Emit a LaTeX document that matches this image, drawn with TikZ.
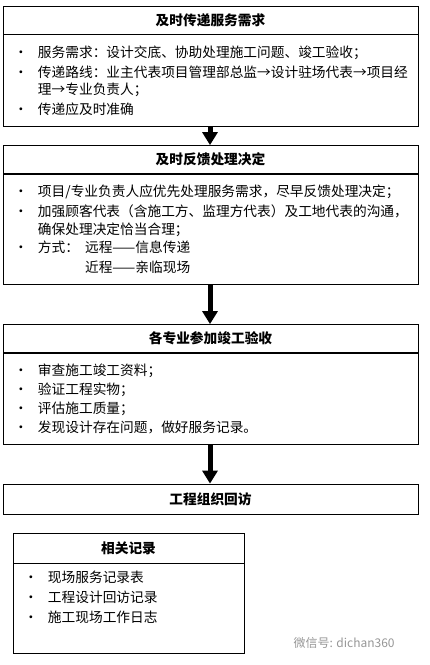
\documentclass[tikz,border=0pt]{standalone}
\usepackage{fontspec}
\usepackage{tikz}
\usepackage{xcolor}
\usetikzlibrary{arrows.meta,positioning}
\newfontfamily\cjk{Noto Sans CJK SC}
\definecolor{markGray}{RGB}{150,150,150}
\newcommand{\bul}{\makebox[24pt][l]{·}}
\newcommand{\wrp}{\hspace*{24pt}}

\begin{document}
\begin{tikzpicture}[
  x=1pt, y=1pt,
  every node/.style={font=\cjk},
  head/.style={
    draw, line width=0.8pt,
    minimum width=#1, minimum height=28pt,
    inner sep=0pt,
    font=\cjk\bfseries\fontsize{13.7}{16}\selectfont
  },
  head/.default=415pt,
  panel/.style={
    draw, line width=0.8pt,
    text width=#1, inner xsep=11pt, inner ysep=0pt,
    align=left,
    font=\cjk\fontsize{13.7}{20}\selectfont
  },
  panel/.default=393pt,
  flow/.style={
    line width=5pt,
    -{Triangle[width=15pt,length=13pt]}
  }
]
  \useasboundingbox (0,0) rectangle (430,-665);

  % stage 1
  \node[head] (t1) at (210.5,-20) {及时传递服务需求};
  \node[panel, minimum height=92pt, anchor=north] (b1) at (t1.south)
    {\bul 服务需求：设计交底、协助处理施工问题、竣工验收；\\
     \bul 传递路线：业主代表项目管理部总监→设计驻场代表→项目经\\[-3pt]
     \wrp 理→专业负责人；\\
     \bul 传递应及时准确};

  % stage 2
  \node[head] (t2) at (210.5,-159.5) {及时反馈处理决定};
  \node[panel, minimum height=110pt, anchor=north] (b2) at (t2.south)
    {\bul 项目/专业负责人应优先处理服务需求，尽早反馈处理决定；\\
     \bul 加强顾客代表（含施工方、监理方代表）及工地代表的沟通，\\[-2pt]
     \wrp 确保处理决定恰当合理；\\[-2pt]
     \bul 方式：\hspace{6pt}远程——信息传递\\
     \wrp\hphantom{方式：}\hspace{6pt}近程——亲临现场};

  % stage 3
  \node[head] (t3) at (210.5,-338.5) {各专业参加竣工验收};
  \node[panel, minimum height=91pt, anchor=north] (b3) at (t3.south)
    {\bul 审查施工竣工资料；\\[-1pt]
     \bul 验证工程实物；\\[-1pt]
     \bul 评估施工质量；\\[-1pt]
     \bul 发现设计存在问题，做好服务记录。};

  % stage 4
  \node[head, minimum height=30pt] (t4) at (210.5,-499) {工程组织回访};

  % records
  \node[head=231pt, minimum height=30pt] (t5) at (128.5,-548) {相关记录};
  \node[panel=209pt, minimum height=90pt, anchor=north] (b5) at (t5.south)
    {\bul 现场服务记录表\\
     \bul 工程设计回访记录\\
     \bul 施工现场工作日志\\[4pt]
     \mbox{}};

  \node[text=markGray, font=\cjk\fontsize{12}{14}\selectfont, anchor=west]
    (mark) at (290,-643) {微信号: dichan360};

  \draw[flow] (b1.south -| 210,0) -- (t2.north -| 210,0);
  \draw[flow] (b2.south -| 210,0) -- (t3.north -| 210,0);
  \draw[flow] (b3.south -| 210,0) -- (t4.north -| 210,0);
\end{tikzpicture}
\end{document}
